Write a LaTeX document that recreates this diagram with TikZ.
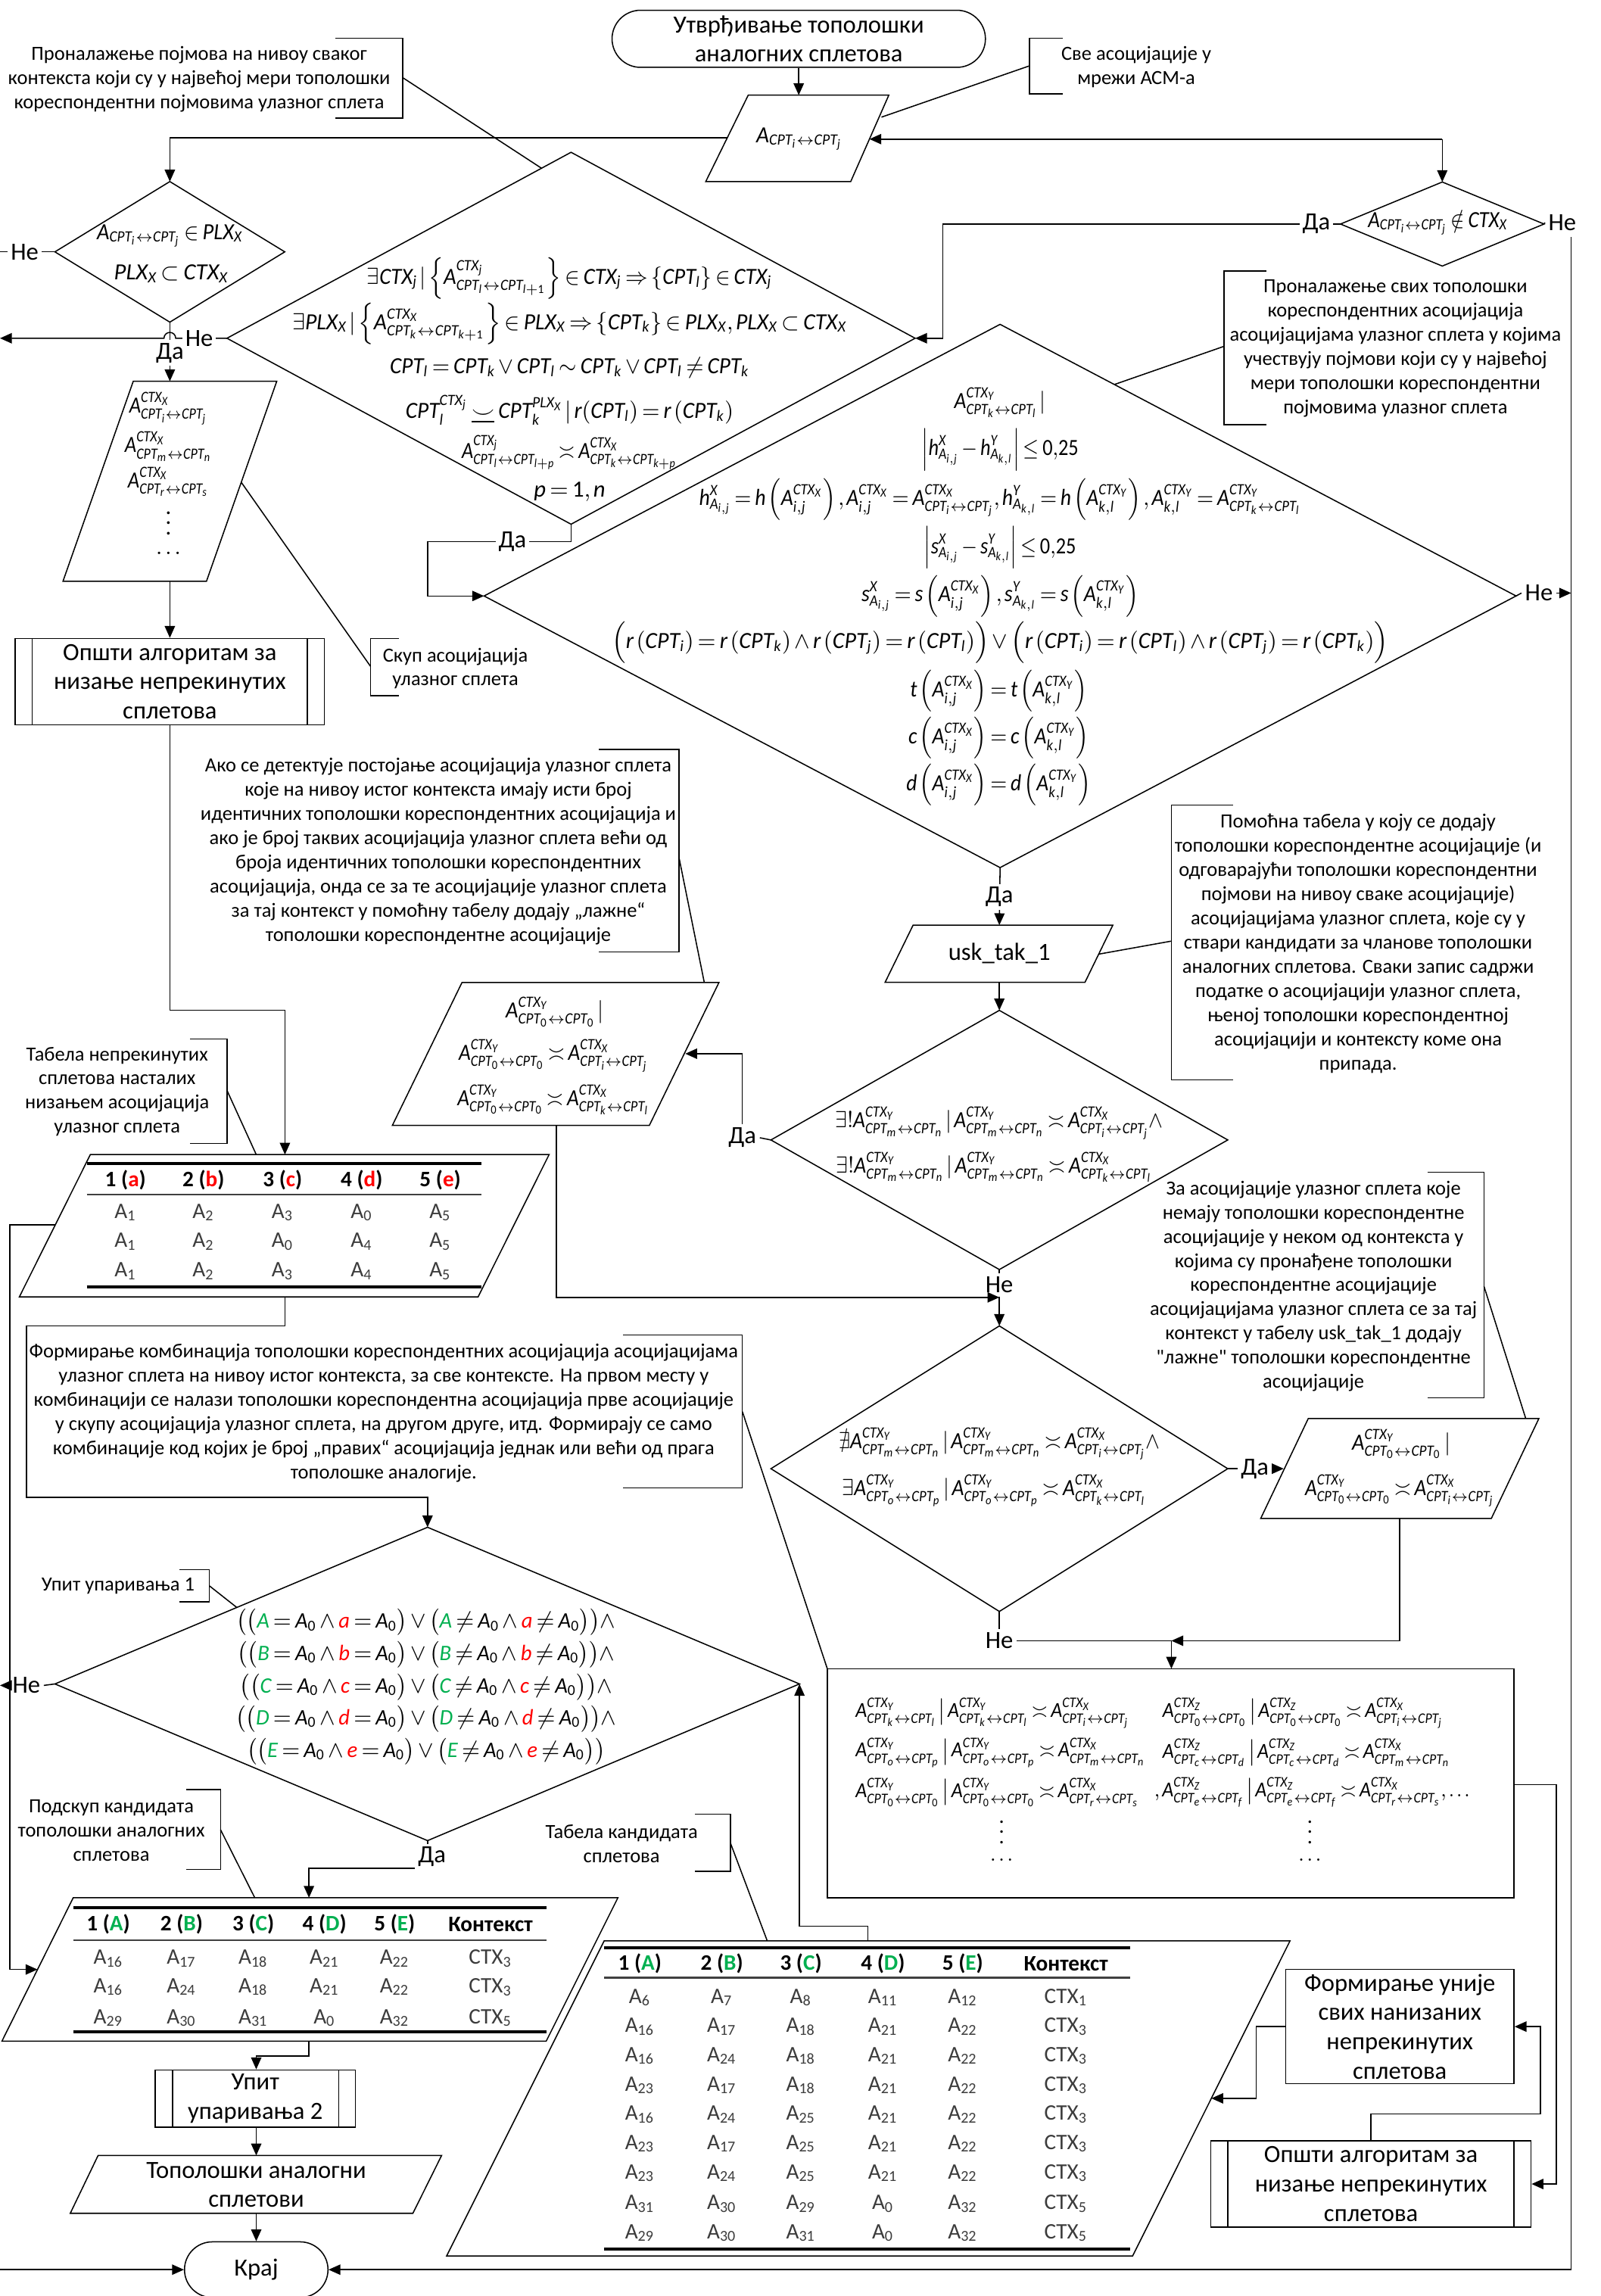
\documentclass[tikz,border=0pt]{standalone}
\usepackage{amsmath,amssymb}
\usepackage{mathspec}
\usepackage{graphicx}
\setmainfont{Carlito}[Ligatures=TeXOff]
\setmathsfont(Digits,Latin){Carlito}
\usetikzlibrary{arrows.meta,calc,shapes.misc}
\DeclareMathSizes{9}{9}{6.1}{4.8}
\DeclareMathSizes{8.6}{8.6}{5.9}{4.6}
\DeclareMathSizes{8.3}{8.3}{5.7}{4.5}

\definecolor{grn}{HTML}{00B050}
\definecolor{rd}{HTML}{FF0000}
\definecolor{cellgray}{HTML}{3C3C3C}

\newcommand\tightmath{\thinmuskip=2mu\medmuskip=2.5mu plus 1mu minus 1mu\thickmuskip=3mu plus 2mu minus 1mu}
% formula squeezed horizontally to the narrow look of the drawing
\newcommand\mf[2]{\scalebox{#1}[1]{$#2$}}
\newcommand\lr{\leftrightarrow}
\newcommand\Asub[1]{A\textsubscript{#1}}
\newcommand\CTXs[1]{CTX\textsubscript{#1}}
\newcommand\smilebar{\mathrel{\underline{\smile}}}
\newcommand\gA[1]{{\color{grn}#1}}
\newcommand\rA[1]{{\color{rd}#1}}
\newcommand\Axy[3]{A^{CTX_{#1}}_{CPT_{#2}\lr CPT_{#3}}}
\newcommand\cmb[5]{\Axy{#1}{#2}{#3}\,\big|\,\Axy{#1}{#2}{#3}\asymp \Axy{X}{#4}{#5}}
\newcommand\upl[2]{\bigl(\bigl(\gA{#1}=A_0\wedge\rA{#2}=A_0\bigr)\vee\bigl(\gA{#1}\neq A_0\wedge\rA{#2}\neq A_0\bigr)\bigr)}
% rows of the three tables
\newcommand\rowone[7]{%
  \node[tc] (t1-#1-1) at (85.7,#2) {\Asub{#3}};
  \node[tc] (t1-#1-2) at (139,#2) {\Asub{#4}};
  \node[tc] (t1-#1-3) at (193,#2) {\Asub{#5}};
  \node[tc] (t1-#1-4) at (247,#2) {\Asub{#6}};
  \node[tc] (t1-#1-5) at (300.7,#2) {\Asub{#7}};}
\newcommand\rowtwo[8]{%
  \node[tc] (t2-#1-1) at (74,#2) {\Asub{#3}};
  \node[tc] (t2-#1-2) at (124,#2) {\Asub{#4}};
  \node[tc] (t2-#1-3) at (173,#2) {\Asub{#5}};
  \node[tc] (t2-#1-4) at (221.6,#2) {\Asub{#6}};
  \node[tc] (t2-#1-5) at (269.5,#2) {\Asub{#7}};
  \node[tc] (t2-#1-6) at (335,#2) {\CTXs{#8}};}
\newcommand\rowthree[8]{%
  \node[tc] (t3-#1-1) at (437,#2) {\Asub{#3}};
  \node[tc] (t3-#1-2) at (493,#2) {\Asub{#4}};
  \node[tc] (t3-#1-3) at (547,#2) {\Asub{#5}};
  \node[tc] (t3-#1-4) at (603,#2) {\Asub{#6}};
  \node[tc] (t3-#1-5) at (657.5,#2) {\Asub{#7}};
  \node[tc] (t3-#1-6) at (728,#2) {\CTXs{#8}};}

\begin{document}
\begin{tikzpicture}[x=0.2mm,y=-0.2mm,
  ln/.style={line width=0.45pt},
  ar/.style={line width=0.45pt,-{Triangle[length=4.6pt,width=4pt]}},
  note/.style={font=\fontsize{7.8}{9.4}\selectfont,align=center,inner sep=0pt},
  big/.style={font=\fontsize{9.6}{11.4}\selectfont,align=center,inner sep=0pt},
  yn/.style={font=\fontsize{9.6}{11}\selectfont,inner sep=1.2pt,fill=white},
  fm/.style={font=\fontsize{9}{11}\selectfont\tightmath,inner sep=0pt},
  fs/.style={font=\fontsize{8.6}{10}\selectfont\tightmath,inner sep=0pt},
  fc/.style={font=\fontsize{8.3}{10}\selectfont\tightmath,inner sep=0pt},
  tc/.style={font=\fontsize{8.6}{10}\selectfont,inner sep=0pt,text=cellgray},
  th/.style={font=\fontsize{8.6}{10}\selectfont\bfseries,inner sep=0pt},
  boxn/.style={draw,line width=0.45pt,inner sep=0pt,big},
  trule/.style={line width=1.1pt},
  hrule/.style={line width=0.6pt,draw=black!75}
]
\fill[white] (0,0) rectangle (1093,1568);
\useasboundingbox (0,0) rectangle (1093,1568);

%% ---------- start and input ----------
\node[boxn,rounded rectangle,minimum width=5.1cm,minimum height=0.78cm] (start) at (545.5,26.5) {Утврђивање тополошки\\аналогних сплетова};
\coordinate (p0a) at (511,65); \coordinate (p0b) at (607,65);
\coordinate (p0c) at (581,124); \coordinate (p0d) at (482,124);
\draw[ln] (p0a)--(p0b)--(p0c)--(p0d)--cycle;
\node[fm] (p0t) at (546,95) {\mf{0.96}{A_{CPT_i\lr CPT_j}}};
\coordinate (p0in) at (545.5,65);
\draw[ar] (start.south) -- (p0in);

% note: all associations
\draw[ln] (726,26) -- (703,26) -- (703,64) -- (726,64);
\node[note] (a2) at (776,46) {Све асоцијације у\\мрежи АСМ-а};
\coordinate (a2p) at (703,45); \coordinate (a2q) at (602,80);
\draw[ln] (a2p) -- (a2q);

% note: concepts per context
\draw[ln] (229,26) -- (275,26) -- (275,80.6) -- (229,80.6);
\node[note] (a1) at (136,54) {Проналажење појмова на нивоу сваког\\контекста који су у највећој мери тополошки\\кореспондентни појмовима улазног сплета};
\coordinate (a1p) at (275,53); \coordinate (a1q) at (370,115);
\draw[ln] (a1p) -- (a1q);

%% ---------- decision 1 ----------
\coordinate (d1n) at (116,124); \coordinate (d1e) at (194.5,172);
\coordinate (d1s) at (116,220); \coordinate (d1w) at (37.5,172);
\draw[ln] (d1n)--(d1e)--(d1s)--(d1w)--cycle;
\node[fm] (d1t1) at (116,161) {\mf{0.93}{A_{CPT_i\lr CPT_j}\in PLX_X}};
\node[fm] (d1t2) at (117,187) {$PLX_X\subset CTX_X$};
\coordinate (p0w) at (496.7,94);
\draw[ar] (p0w) -| (d1n);
\coordinate (lft1) at (0,172);
\draw[ln] (d1w) -- (lft1) node[yn,pos=0.55] (ne1) {Не};

%% ---------- decision 2 (formula) ----------
\coordinate (d2n) at (390,104); \coordinate (d2e) at (625,231);
\coordinate (d2s) at (390,358); \coordinate (d2w) at (155,231);
\draw[ln] (d2n)--(d2e)--(d2s)--(d2w)--cycle;
\node[fm] (d2t1) at (389,190) {\mf{0.94}{\exists CTX_j\,|\left\{A^{CTX_j}_{CPT_l\lr CPT_{l+1}}\right\}\in CTX_j\Rightarrow\left\{CPT_l\right\}\in CTX_j}};
\node[fm] (d2t2) at (389,221) {\mf{0.97}{\exists PLX_X\,|\left\{A^{CTX_X}_{CPT_k\lr CPT_{k+1}}\right\}\in PLX_X\Rightarrow\left\{CPT_k\right\}\in PLX_X,PLX_X\subset CTX_X}};
\node[fm] (d2t3) at (389,251) {\mf{0.955}{CPT_l=CPT_k\vee CPT_l\sim CPT_k\vee CPT_l\neq CPT_k}};
\node[fm] (d2t4) at (389,280) {\mf{0.96}{CPT_l^{CTX_j}\smilebar CPT_k^{PLX_X}\,|\,r(CPT_l)=r\left(CPT_k\right)}};
\node[fm] (d2t5) at (389,309) {\mf{0.86}{A^{CTX_j}_{CPT_l\lr CPT_{l+p}}\asymp A^{CTX_X}_{CPT_k\lr CPT_{k+p}}}};
\node[fm] (d2t6) at (389,336) {$p=1,n$};
% "No" branch of decision 2 hops over the vertical flow line
\coordinate (hopr) at (120,231); \coordinate (lft2) at (0,231);
\draw[ar] (d2w) -- (hopr) arc[start angle=0,end angle=-180,radius=4] -- (lft2);
\node[yn] (ne2) at (136,231) {Не};

% yes from decision 1 to associations set
\coordinate (p1in) at (116,260.4);
\draw[ar] (d1s) -- (p1in);
\node[yn] (da1) at (116,241) {Да};

%% ---------- set of input associations ----------
\coordinate (p1a) at (91,260.4); \coordinate (p1b) at (189,260.4);
\coordinate (p1c) at (141,397); \coordinate (p1d) at (43,397);
\draw[ln] (p1a)--(p1b)--(p1c)--(p1d)--cycle;
\node[fm] (p1t1) at (115,279) {\mf{0.87}{\Axy{X}{i}{j}}};
\node[fm] (p1t2) at (115,305) {\mf{0.87}{\Axy{X}{m}{n}}};
\node[fm] (p1t3) at (115,329) {\mf{0.87}{\Axy{X}{r}{s}}};
\node[fm] (p1t4) at (115,352) {$\vdots$};
\node[fm] (p1t5) at (115,378) {$\ldots$};

\node[boxn,minimum width=4.224cm,minimum height=1.18cm] (op1) at (116,465.5) {Општи алгоритам за\\низање непрекинутих\\сплетова};
\draw[ln] (22,436) -- (22,495); \draw[ln] (210,436) -- (210,495);
\coordinate (p1s) at (116,397);
\draw[ar] (p1s) -- (op1.north);

% note: set of associations
\draw[ln] (272.6,436) -- (253,436) -- (253,475) -- (272.6,475);
\node[note] (a4) at (311,456.5) {Скуп асоцијација\\улазног сплета};
\coordinate (a4p) at (253,455); \coordinate (a4q) at (164.8,329.4);
\draw[ln] (a4p) -- (a4q);

%% ---------- decision 3 ----------
\coordinate (d3n) at (985,124.3); \coordinate (d3e) at (1054.5,153);
\coordinate (d3s) at (985,181.7); \coordinate (d3w) at (915.5,153);
\draw[ln] (d3n)--(d3e)--(d3s)--(d3w)--cycle;
\node[fm] (d3t) at (982,152) {\mf{0.88}{A_{CPT_i\lr CPT_j}\notin CTX_X}};
\coordinate (p0e) at (593.8,95); \coordinate (d3up) at (985,95);
\draw[ar] (d3up) -- (p0e);
\draw[ar] (d3up) -- (d3n);
\coordinate (d3x) at (644,153); \coordinate (d3y) at (644,231);
\draw[ar] (d3w) -- (d3x) -- (d3y) -- (d2e);
\node[yn] (da3) at (899,153) {Да};
\node[yn] (ne3) at (1067,152) {Не};
\draw[ln] (d3e) -- (ne3.west);

%% ---------- decision 4 (correspondence) ----------
\coordinate (d4n) at (683,221.5); \coordinate (d4e) at (1035.4,407);
\coordinate (d4s) at (683,592.5); \coordinate (d4w) at (330.6,407);
\draw[ln] (d4n)--(d4e)--(d4s)--(d4w)--cycle;
\coordinate (d2a) at (390,370); \coordinate (d2b) at (292,370); \coordinate (d2c) at (292,407);
\draw[ar] (d2s) -- (d2a) -- (d2b) -- (d2c) -- (d4w);
\node[yn] (da2) at (350,370) {Да};
\node[fm] (d4t1) at (683,275) {\mf{0.9}{A^{CTX_Y}_{CPT_k\lr CPT_l}\,|}};
\node[fm] (d4t2) at (683,307) {\mf{0.86}{\left|h^X_{A_{i,j}}-h^Y_{A_{k,l}}\right|\leq 0{,}25}};
\node[fm] (d4t3) at (683,341) {\mf{0.905}{h^X_{A_{i,j}}=h\left(A^{CTX_X}_{i,j}\right),A^{CTX_X}_{i,j}=A^{CTX_X}_{CPT_i\lr CPT_j},h^Y_{A_{k,l}}=h\left(A^{CTX_Y}_{k,l}\right),A^{CTX_Y}_{k,l}=A^{CTX_Y}_{CPT_k\lr CPT_l}}};
\node[fm] (d4t4) at (683,374) {\mf{0.86}{\left|s^X_{A_{i,j}}-s^Y_{A_{k,l}}\right|\leq 0{,}25}};
\node[fm] (d4t5) at (683,407) {\mf{0.91}{s^X_{A_{i,j}}=s\left(A^{CTX_X}_{i,j}\right),s^Y_{A_{k,l}}=s\left(A^{CTX_Y}_{k,l}\right)}};
\node[fm] (d4t6) at (683,439) {\mf{0.98}{\Bigl(r\left(CPT_i\right)=r\left(CPT_k\right)\wedge r\left(CPT_j\right)=r\left(CPT_l\right)\Bigr)\vee\Bigl(r\left(CPT_i\right)=r\left(CPT_l\right)\wedge r\left(CPT_j\right)=r\left(CPT_k\right)\Bigr)}};
\node[fm] (d4t7) at (682,472) {\mf{0.9}{t\left(A^{CTX_X}_{i,j}\right)=t\left(A^{CTX_Y}_{k,l}\right)}};
\node[fm] (d4t8) at (682,504) {\mf{0.9}{c\left(A^{CTX_X}_{i,j}\right)=c\left(A^{CTX_Y}_{k,l}\right)}};
\node[fm] (d4t9) at (682,536) {\mf{0.9}{d\left(A^{CTX_X}_{i,j}\right)=d\left(A^{CTX_Y}_{k,l}\right)}};
\node[yn] (ne4) at (1051,405) {Не};
\draw[ln] (d4e) -- (ne4.west);
\coordinate (r4) at (1073,405);
\draw[ar] (ne4.east) -- (r4);

% note: topologically corresponding associations
\draw[ln] (865,185) -- (836,185) -- (836,290) -- (865,290);
\node[note] (a3) at (953,238) {Проналажење свих тополошки\\кореспондентних асоцијација\\асоцијацијама улазног сплета у којима\\учествују појмови који су у највећој\\мери тополошки кореспондентни\\појмовима улазног сплета};
\coordinate (a3p) at (836,236.5); \coordinate (a3q) at (761,262.6);
\draw[ln] (a3p) -- (a3q);

%% ---------- usk_tak_1 ----------
\coordinate (p2a) at (623.6,631.8); \coordinate (p2b) at (760,631.8);
\coordinate (p2c) at (741,670.8); \coordinate (p2d) at (604.5,670.8);
\draw[ln] (p2a)--(p2b)--(p2c)--(p2d)--cycle;
\node[big] (usk) at (682.5,651) {usk\_tak\_1};
\coordinate (p2in) at (682.5,631.8);
\draw[ar] (d4s) -- (p2in);
\node[yn] (da4) at (682.5,612.5) {Да};

\draw[ln] (842,549.8) -- (800,549.8) -- (800,737.4) -- (842,737.4);
\node[note] (a6) at (927.5,644.5) {Помоћна табела у коју се додају\\тополошки кореспондентне асоцијације (и\\одговарајући тополошки кореспондентни\\појмови на нивоу сваке асоцијације)\\асоцијацијама улазног сплета, које су у\\ствари кандидати за чланове тополошки\\аналогних сплетова. Сваки запис садржи\\податке о асоцијацији улазног сплета,\\њеној тополошки кореспондентној\\асоцијацији и контексту коме она\\припада.};
\coordinate (a6p) at (800,642.7); \coordinate (a6q) at (750.4,651.6);
\draw[ln] (a6p) -- (a6q);

%% ---------- decision 5 ----------
\coordinate (d5n) at (682.5,690); \coordinate (d5e) at (838.5,778.5);
\coordinate (d5s) at (682.5,867); \coordinate (d5w) at (526.5,778.5);
\draw[ln] (d5n)--(d5e)--(d5s)--(d5w)--cycle;
\coordinate (p2s) at (682.5,670.8);
\draw[ar] (p2s) -- (d5n);
\node[fm] (d5t1) at (682.5,767) {\mf{0.9}{\exists!\Axy{Y}{m}{n}\,|\,\Axy{Y}{m}{n}\asymp\Axy{X}{i}{j}\wedge}};
\node[fm] (d5t2) at (679,797) {\mf{0.9}{\exists!\Axy{Y}{m}{n}\,|\,\Axy{Y}{m}{n}\asymp\Axy{X}{k}{l}}};

% placeholder associations
\coordinate (p3a) at (315.5,671); \coordinate (p3b) at (491,671);
\coordinate (p3c) at (443.5,768.5); \coordinate (p3d) at (268,768.5);
\draw[ln] (p3a)--(p3b)--(p3c)--(p3d)--cycle;
\node[fm] (p3t1) at (379,691) {\mf{0.93}{\Axy{Y}{0}{0}\,|}};
\node[fm] (p3t2) at (378,721) {\mf{0.89}{\Axy{Y}{0}{0}\asymp\Axy{X}{i}{j}}};
\node[fm] (p3t3) at (378,751) {\mf{0.89}{\Axy{Y}{0}{0}\asymp\Axy{X}{k}{l}}};
\node[yn] (da5) at (507,777) {Да};
\draw[ln] (d5w) -- (da5.east);
\coordinate (p3e) at (468,719.6);
\draw[ar] (da5.north) |- (p3e);

\draw[ln] (409,511.8) -- (463.8,511.8) -- (463.8,650) -- (409,650);
\node[note] (a5) at (299.3,581.4) {Ако се детектује постојање асоцијација улазног сплета\\које на нивоу истог контекста имају исти број\\идентичних тополошки кореспондентних асоцијација и\\ако је број таквих асоцијација улазног сплета већи од\\броја идентичних тополошки кореспондентних\\асоцијација, онда се за те асоцијације улазног сплета\\за тај контекст у помоћну табелу додају „лажне“\\тополошки кореспондентне асоцијације};
\coordinate (a5p) at (463.8,586); \coordinate (a5q) at (481,671);
\draw[ln] (a5p) -- (a5q);

%% ---------- decision 6 ----------
\coordinate (d6n) at (682.5,905.5); \coordinate (d6e) at (838.5,1003);
\coordinate (d6s) at (682.5,1100.5); \coordinate (d6w) at (526.5,1003);
\draw[ln] (d6n)--(d6e)--(d6s)--(d6w)--cycle;
\node[fm] (d6t1) at (682.5,986) {\mf{0.9}{\nexists\Axy{Y}{m}{n}\,|\,\Axy{Y}{m}{n}\asymp\Axy{X}{i}{j}\wedge}};
\node[fm] (d6t2) at (679,1018) {\mf{0.9}{\exists\Axy{Y}{o}{p}\,|\,\Axy{Y}{o}{p}\asymp\Axy{X}{k}{l}}};
\node[yn] (ne5) at (682.5,877.5) {Не};
\draw[ln] (d5s) -- (ne5.north);
\draw[ar] (ne5.south) -- (d6n);
\coordinate (p3s) at (380,768.5); \coordinate (j5) at (682.5,886);
\draw[ar] (p3s) |- (j5);

\coordinate (p4a) at (893.5,968.7); \coordinate (p4b) at (1051,968.7);
\coordinate (p4c) at (1018.5,1037); \coordinate (p4d) at (861,1037);
\draw[ln] (p4a)--(p4b)--(p4c)--(p4d)--cycle;
\node[fm] (p4t1) at (957,986) {\mf{0.93}{\Axy{Y}{0}{0}\,|}};
\node[fm] (p4t2) at (956,1018) {\mf{0.89}{\Axy{Y}{0}{0}\asymp\Axy{X}{i}{j}}};
\node[yn] (da6) at (857,1003) {Да};
\draw[ln] (d6e) -- (da6.west);
\coordinate (p4w) at (876.7,1003);
\draw[ar] (da6.east) -- (p4w);

\draw[ln] (975,800.5) -- (1013.5,800.5) -- (1013.5,954.7) -- (975,954.7);
\node[note] (a7) at (897,878.4) {За асоцијације улазног сплета које\\немају тополошки кореспондентне\\асоцијације у неком од контекста у\\којима су пронађене тополошки\\кореспондентне асоцијације\\асоцијацијама улазног сплета се за тај\\контекст у табелу usk\_tak\_1 додају\\"лажне" тополошки кореспондентне\\асоцијације};
\coordinate (a7p) at (1013.5,878.5); \coordinate (a7q) at (1042,968.7);
\draw[ln] (a7p) -- (a7q);

%% ---------- combinations ----------
\node[draw,line width=0.45pt,minimum width=9.38cm,minimum height=3.128cm,inner sep=0pt] (combo) at (799.5,1217.8) {};
\node[yn] (ne6) at (682.5,1120.5) {Не};
\draw[ln] (d6s) -- (ne6.north);
\coordinate (j6) at (800,1120.5);
\draw[ln] (ne6.east) -- (j6);
\coordinate (p4s) at (956,1037);
\draw[ar] (p4s) |- (j6);
\coordinate (cbn) at (800,1139.6);
\draw[ar] (j6) -- (cbn);
\node[fc,anchor=west] (cb11) at (584,1170) {\mf{0.92}{\cmb{Y}{k}{l}{i}{j}}};
\node[fc,anchor=west] (cb12) at (793.7,1170) {\mf{0.92}{\cmb{Z}{0}{0}{i}{j}}};
\node[fc,anchor=west] (cb21) at (584,1197) {\mf{0.92}{\cmb{Y}{o}{p}{m}{n}}};
\node[fc,anchor=west] (cb22) at (793.7,1197) {\mf{0.92}{\cmb{Z}{c}{d}{m}{n}}};
\node[fc,anchor=west] (cb31) at (584,1224) {\mf{0.92}{\cmb{Y}{0}{0}{r}{s}}};
\node[fc,anchor=west] (cb32) at (788,1224) {\mf{0.92}{,\cmb{Z}{e}{f}{r}{s},\ldots}};
\node[fc] (cbv1) at (684,1246) {$\vdots$};
\node[fc] (cbv2) at (894.6,1246) {$\vdots$};
\node[fc] (cbe1) at (684,1270) {$\ldots$};
\node[fc] (cbe2) at (894.6,1270) {$\ldots$};

%% ---------- right column: chaining and union ----------
\node[boxn,minimum width=4.372cm,minimum height=1.18cm] (op2) at (936.3,1491.5) {Општи алгоритам за\\низање непрекинутих\\сплетова};
\draw[ln] (838.5,1462) -- (838.5,1521); \draw[ln] (1034,1462) -- (1034,1521);
\coordinate (cbe) at (1034,1218.7); \coordinate (c1) at (1063,1218.7); \coordinate (c2) at (1063,1491.5);
\draw[ar] (cbe) -- (c1) -- (c2) -- (op2.east);
\node[boxn,minimum width=3.12cm,minimum height=1.56cm] (uni) at (956,1384) {Формирање уније\\свих нанизаних\\непрекинутих\\сплетова};
\coordinate (u1) at (936.3,1443.6); \coordinate (u2) at (1052,1443.6); \coordinate (u3) at (1052,1384);
\draw[ar] (op2.north) -- (u1) -- (u2) -- (u3) -- (uni.east);

%% ---------- candidate table ----------
\coordinate (t3a) at (412.6,1325.5); \coordinate (t3b) at (881,1325.5);
\coordinate (t3c) at (773.5,1540.7); \coordinate (t3d) at (305,1540.7);
\draw[ln] (t3a)--(t3b)--(t3c)--(t3d)--cycle;
\coordinate (v1) at (858,1384); \coordinate (v2) at (858,1433); \coordinate (t3e) at (827.3,1433);
\draw[ar] (uni.west) -- (v1) -- (v2) -- (t3e);
\draw[trule] (412.6,1330) -- (772,1330);
\draw[hrule] (412.6,1350.6) -- (772,1350.6);
\draw[trule] (412.6,1536) -- (772,1536);
\node[th] (t3h1) at (437,1341) {1 (\textcolor{grn}{A})};
\node[th] (t3h2) at (493,1341) {2 (\textcolor{grn}{B})};
\node[th] (t3h3) at (547,1341) {3 (\textcolor{grn}{C})};
\node[th] (t3h4) at (603,1341) {4 (\textcolor{grn}{D})};
\node[th] (t3h5) at (657.5,1341) {5 (\textcolor{grn}{E})};
\node[th] (t3h6) at (728,1341) {Контекст};
\rowthree{1}{1364}{6}{7}{8}{11}{12}{1}
\rowthree{2}{1384}{16}{17}{18}{21}{22}{3}
\rowthree{3}{1404}{16}{24}{18}{21}{22}{3}
\rowthree{4}{1424}{23}{17}{18}{21}{22}{3}
\rowthree{5}{1444}{16}{24}{25}{21}{22}{3}
\rowthree{6}{1464}{23}{17}{25}{21}{22}{3}
\rowthree{7}{1484}{23}{24}{25}{21}{22}{3}
\rowthree{8}{1505}{31}{30}{29}{0}{32}{5}
\rowthree{9}{1525}{29}{30}{31}{0}{32}{5}

\draw[ln] (474.6,1239) -- (499,1239) -- (499,1278) -- (474.6,1278);
\node[note] (a12) at (424.5,1259) {Табела кандидата\\сплетова};
\coordinate (a12p) at (499,1259); \coordinate (a12q) at (524,1325.5);
\draw[ln] (a12p) -- (a12q);

%% ---------- chained nets table ----------
\coordinate (op1s) at (116,690); \coordinate (op1r) at (194.6,690); \coordinate (t1in) at (194.6,788.5);
\draw[ar] (op1.south) -- (op1s) -- (op1r) -- (t1in);
\coordinate (t1a) at (61.7,788.5); \coordinate (t1b) at (375,788.5);
\coordinate (t1c) at (326.5,885.7); \coordinate (t1d) at (13.2,885.7);
\draw[ln] (t1a)--(t1b)--(t1c)--(t1d)--cycle;
\draw[trule] (59.3,794.5) -- (329,794.5);
\draw[hrule] (59.3,816) -- (329,816);
\draw[trule] (59.3,878.8) -- (329,878.8);
\node[th] (t1h1) at (85.7,806) {1 (\textcolor{rd}{a})};
\node[th] (t1h2) at (139,806) {2 (\textcolor{rd}{b})};
\node[th] (t1h3) at (193,806) {3 (\textcolor{rd}{c})};
\node[th] (t1h4) at (247,806) {4 (\textcolor{rd}{d})};
\node[th] (t1h5) at (300.7,806) {5 (\textcolor{rd}{e})};
\rowone{1}{828}{1}{2}{3}{0}{5}
\rowone{2}{848}{1}{2}{0}{4}{5}
\rowone{3}{868}{1}{2}{3}{4}{5}

\draw[ln] (130,709.5) -- (155,709.5) -- (155,781) -- (130,781);
\node[note] (a8) at (80,745.5) {Табела непрекинутих\\сплетова насталих\\низањем асоцијација\\улазног сплета};
\coordinate (a8p) at (155,744.6); \coordinate (a8q) at (175,788.5);
\draw[ln] (a8p) -- (a8q);

% flow around the combination note into the first pairing query
\coordinate (t1s) at (194.6,885.7); \coordinate (f1) at (194.6,905.5); \coordinate (f2) at (18,905.5);
\coordinate (f3) at (18,1022.7); \coordinate (f4) at (292,1022.7);
\coordinate (d7n) at (292,1043); \coordinate (d7e) at (546,1150);
\coordinate (d7s) at (292,1257); \coordinate (d7w) at (37.5,1150);
\draw[ar] (t1s) -- (f1) -- (f2) -- (f3) -- (f4) -- (d7n);

\draw[ln] (425.5,911.6) -- (507,911.6) -- (507,1016) -- (425.5,1016);
\node[note] (a9) at (262,965) {Формирање комбинација тополошки кореспондентних асоцијација асоцијацијама\\улазног сплета на нивоу истог контекста, за све контексте. На првом месту у\\комбинацији се налази тополошки кореспондентна асоцијација прве асоцијације\\у скупу асоцијација улазног сплета, на другом друге, итд. Формирају се само\\комбинације код којих је број „правих“ асоцијација једнак или већи од прага\\тополошке аналогије.};
\coordinate (a9p) at (507,964); \coordinate (a9q) at (565,1139.6);
\draw[ln] (a9p) -- (a9q);

%% ---------- pairing query 1 ----------
\draw[ln] (d7n)--(d7e)--(d7s)--(d7w)--cycle;
\node[fs] (d7t1) at (291,1108) {\mf{0.98}{\upl{A}{a}\wedge}};
\node[fs] (d7t2) at (291,1130) {\mf{0.98}{\upl{B}{b}\wedge}};
\node[fs] (d7t3) at (291,1152) {\mf{0.98}{\upl{C}{c}\wedge}};
\node[fs] (d7t4) at (291,1174) {\mf{0.98}{\upl{D}{d}\wedge}};
\node[fs] (d7t5) at (291,1196) {\mf{0.98}{\upl{E}{e}}};
\coordinate (t3t) at (592.6,1325.5); \coordinate (k1) at (592.6,1315.5); \coordinate (k2) at (546,1315.5);
\draw[ar] (t3t) -- (k1) -- (k2) -- (d7e);
\node[yn] (ne7) at (18,1151) {Не};
\draw[ln] (d7w) -- (ne7.east);
\coordinate (lft7) at (0,1151);
\draw[ar] (ne7.west) -- (lft7);
\coordinate (g1) at (292,1276); \coordinate (g2) at (211,1276); \coordinate (t2in) at (211,1296);
\draw[ar] (d7s) -- (g1) -- (g2) -- (t2in);
\node[yn] (da7) at (295,1268) {Да};

\draw[ln] (122.7,1072) -- (143,1072) -- (143,1094) -- (122.7,1094);
\node[note] (a10) at (80.6,1083) {Упит упаривања 1};
\coordinate (a10p) at (143,1083); \coordinate (a10q) at (161.5,1097.6);
\draw[ln] (a10p) -- (a10q);

\draw[ln] (127,1222) -- (150.6,1222) -- (150.6,1276.6) -- (127,1276.6);
\node[note] (a11) at (76,1250) {Подскуп кандидата\\тополошки аналогних\\сплетова};
\coordinate (a11p) at (150.6,1249.5); \coordinate (a11q) at (174,1296);
\draw[ln] (a11p) -- (a11q);

%% ---------- candidate subset table ----------
\coordinate (t2a) at (50,1296); \coordinate (t2b) at (422,1296);
\coordinate (t2c) at (373,1394); \coordinate (t2d) at (1.3,1394);
\draw[ln] (t2a)--(t2b)--(t2c)--(t2d)--cycle;
\draw[trule] (50,1302.8) -- (373,1302.8);
\draw[hrule] (50,1325) -- (373,1325);
\draw[trule] (50,1387.7) -- (373,1387.7);
\node[th] (t2h1) at (74,1314) {1 (\textcolor{grn}{A})};
\node[th] (t2h2) at (124,1314) {2 (\textcolor{grn}{B})};
\node[th] (t2h3) at (173,1314) {3 (\textcolor{grn}{C})};
\node[th] (t2h4) at (221.6,1314) {4 (\textcolor{grn}{D})};
\node[th] (t2h5) at (269.5,1314) {5 (\textcolor{grn}{E})};
\node[th] (t2h6) at (335,1314) {Контекст};
\rowtwo{1}{1337.5}{16}{17}{18}{21}{22}{3}
\rowtwo{2}{1357}{16}{24}{18}{21}{22}{3}
\rowtwo{3}{1378}{29}{30}{31}{0}{32}{5}
\coordinate (t1w) at (37.7,836.5); \coordinate (e1) at (6.6,836.5); \coordinate (e2) at (6.6,1345);
\coordinate (t2w) at (25.6,1345);
\draw[ar] (t1w) -- (e1) -- (e2) -- (t2w);

%% ---------- final steps ----------
\node[boxn,minimum width=2.734cm,minimum height=0.782cm] (up2) at (174.35,1433.15) {Упит\\упаривања 2};
\draw[ln] (118,1413.6) -- (118,1452.7); \draw[ln] (231.4,1413.6) -- (231.4,1452.7);
\coordinate (t2s) at (211,1394); \coordinate (h1) at (211,1404); \coordinate (h2) at (175,1404);
\draw[ar] (t2s) -- (h1) -- (h2) -- (h2 |- up2.north);
\coordinate (p5a) at (67,1472); \coordinate (p5b) at (301.6,1472);
\coordinate (p5c) at (282,1511.5); \coordinate (p5d) at (48,1511.5);
\draw[ln] (p5a)--(p5b)--(p5c)--(p5d)--cycle;
\node[big] (p5t) at (175,1492) {Тополошки аналогни\\сплетови};
\coordinate (p5in) at (175,1472); \coordinate (p5s) at (175,1511.5);
\draw[ar] (up2.south -| p5in) -- (p5in);
\node[boxn,rounded rectangle,minimum width=1.96cm,minimum height=0.76cm] (kraj) at (175,1550) {Крај};
\draw[ar] (p5s) -- (kraj.north);
\coordinate (lft8) at (0,1550);
\draw[ar] (lft8) -- (kraj.west);
\coordinate (r1) at (1073,162); \coordinate (r2) at (1073,1550);
\draw[ar] (r1) -- (r2) -- (kraj.east);
\end{tikzpicture}
\end{document}
